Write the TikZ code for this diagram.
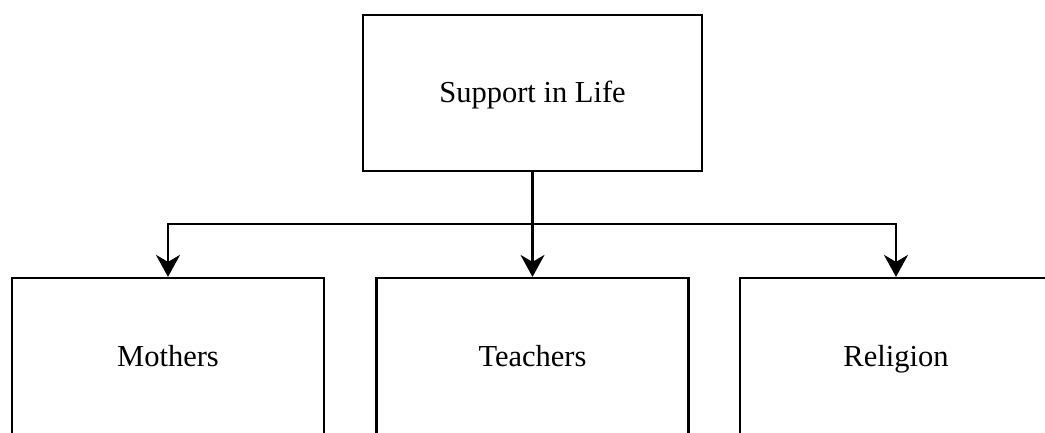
\documentclass[tikz,border=0pt]{standalone}
\usepackage{fontspec}
\setmainfont{Liberation Serif}
\usetikzlibrary{arrows.meta}
\begin{document}
\begin{tikzpicture}[x=1pt,y=-1pt,
  box/.style={draw=black,line width=2.2pt,fill=white,minimum height=156pt,inner sep=0pt,
    text height=27pt,text depth=7pt,
    font=\fontsize{30.5}{36}\selectfont,text=black},
  conn/.style={draw=black,line width=2.2pt,-{Stealth[length=22pt,width=24pt,inset=7pt]}}]
\clip (0,0) rectangle (1045,433);
\fill[white] (0,0) rectangle (1045,433);
\node[box,minimum width=339pt] (top) at (532.5,93) {Support in Life};
\node[box,minimum width=312pt] (mothers) at (168,356) {Mothers};
\node[box,minimum width=312pt] (teachers) at (532.5,356) {Teachers};
\node[box,minimum width=312pt] (religion) at (896,356) {Religion};
\coordinate (j) at (532.5,224);
\draw[conn] (top.south) -- (teachers.north);
\draw[conn] (j) -| (mothers.north);
\draw[conn] (j) -| (religion.north);
\end{tikzpicture}
\end{document}
